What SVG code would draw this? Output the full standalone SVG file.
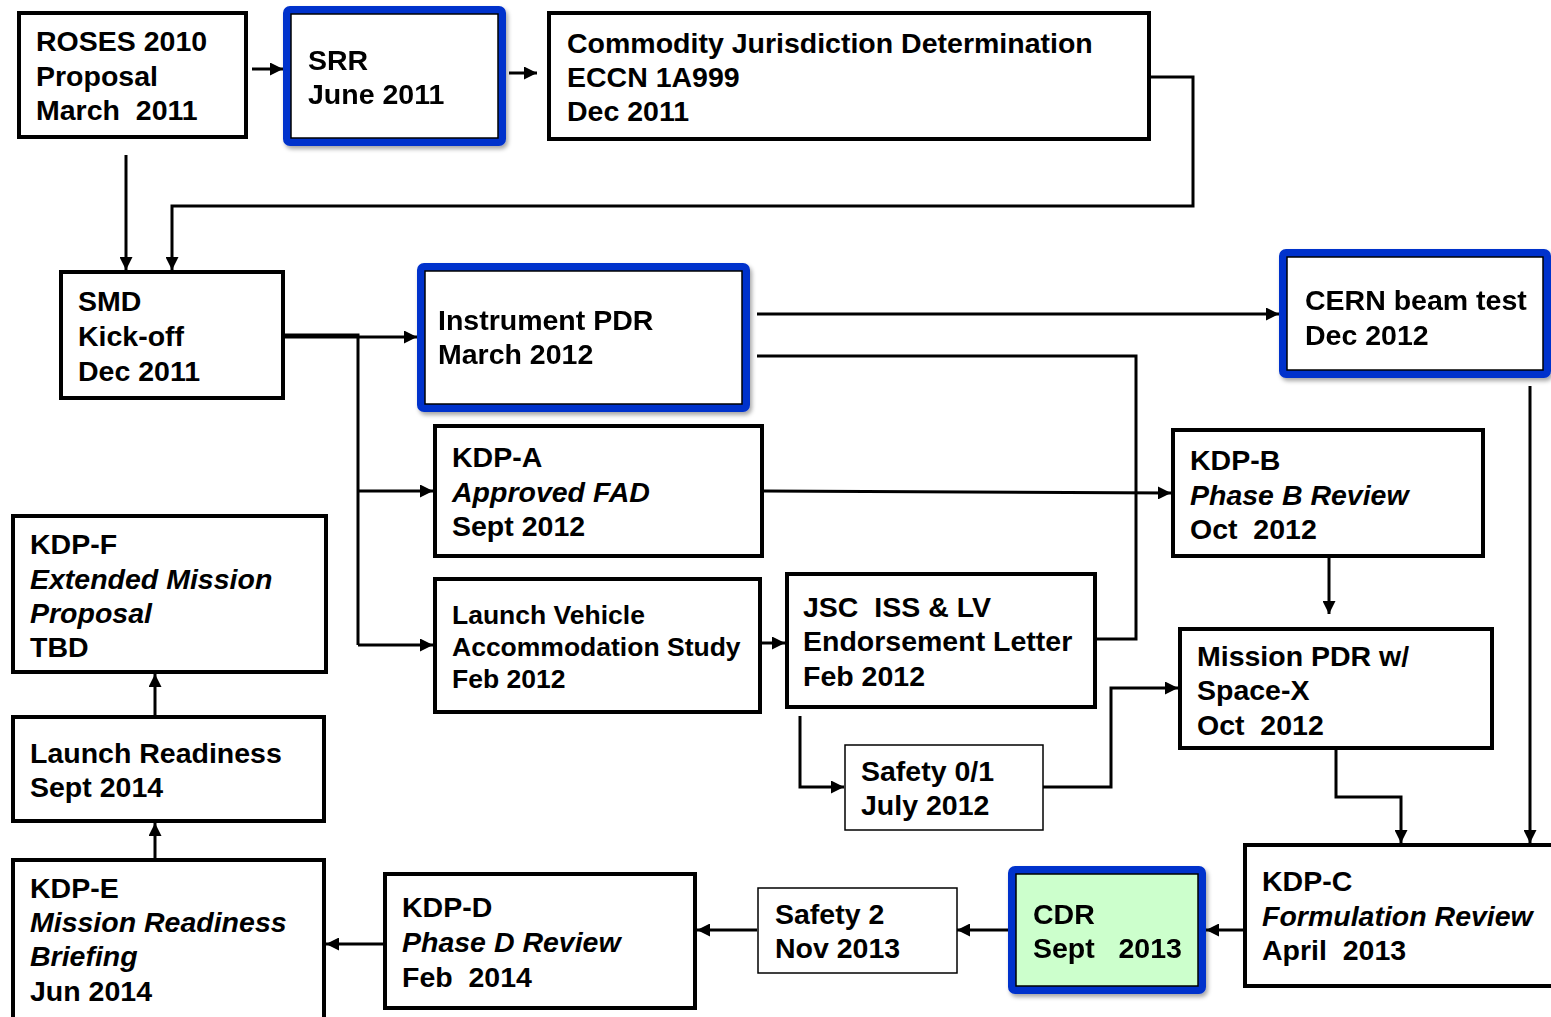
<svg xmlns="http://www.w3.org/2000/svg" width="1551" height="1017" viewBox="0 0 1551 1017">
  <style>
    .box { fill: #ffffff; stroke: #000000; stroke-width: 4; }
    .thin { fill: #ffffff; stroke: #000000; stroke-width: 1.5; }
    .hl { fill: #ffffff; stroke: #0033cc; stroke-width: 8; }
    .hl-in { fill: #ffffff; stroke: #000000; stroke-width: 1.5; }
    .green { fill: #ccffcc; }
    text { font-family: "Liberation Sans", Arial, sans-serif; font-weight: bold; font-size: 28.5px; fill: #000000; }
    .it { font-style: italic; }
    .sm { font-size: 26.5px; }
    .wire { fill: none; stroke: #000000; stroke-width: 3; }
    .arr { marker-end: url(#head); }
  </style>
  <defs>
    <marker id="head" markerUnits="userSpaceOnUse" markerWidth="13" markerHeight="13" viewBox="0 0 13 13" refX="13" refY="6.5" orient="auto">
      <path d="M0,0 L13,6.5 L0,13 z" fill="#000000"/>
    </marker>
    <filter id="shadow" x="-10%" y="-10%" width="125%" height="130%">
      <feDropShadow dx="2" dy="3" stdDeviation="2" flood-color="#000000" flood-opacity="0.35"/>
    </filter>
  </defs>

  <rect width="1551" height="1017" fill="#ffffff"/>

  <!-- connectors -->
  <g id="connectors">
    <line class="wire arr" x1="252" y1="69" x2="283" y2="69"/>
    <line class="wire arr" x1="509" y1="73" x2="537" y2="73"/>
    <line class="wire arr" x1="126" y1="155" x2="126" y2="270"/>
    <polyline class="wire arr" points="1151,77 1193,77 1193,206 172,206 172,270"/>
    <line class="wire arr" x1="285" y1="337" x2="417" y2="337"/>
    <polyline class="wire" points="285,335 358,335 358,645"/>
    <line class="wire arr" x1="358" y1="491" x2="433" y2="491"/>
    <line class="wire arr" x1="358" y1="645" x2="433" y2="645"/>
    <line class="wire arr" x1="757" y1="314" x2="1279" y2="314"/>
    <polyline class="wire" points="757,356 1136,356 1136,639 1097,639"/>
    <line class="wire arr" x1="764" y1="491" x2="1171" y2="493"/>
    <line class="wire arr" x1="1329" y1="558" x2="1329" y2="614"/>
    <line class="wire arr" x1="762" y1="643" x2="785" y2="643"/>
    <polyline class="wire arr" points="800,716 800,787 844,787"/>
    <polyline class="wire arr" points="1043,787 1111,787 1111,688 1178,688"/>
    <polyline class="wire arr" points="1336,750 1336,797 1401,797 1401,843"/>
    <line class="wire arr" x1="1530" y1="386" x2="1530" y2="843"/>
    <line class="wire arr" x1="1243" y1="930" x2="1206" y2="930"/>
    <line class="wire arr" x1="1008" y1="930" x2="957" y2="930"/>
    <line class="wire arr" x1="757" y1="930" x2="697" y2="930"/>
    <line class="wire arr" x1="383" y1="944" x2="326" y2="944"/>
    <line class="wire arr" x1="155" y1="858" x2="155" y2="823"/>
    <line class="wire arr" x1="155" y1="715" x2="155" y2="674"/>
  </g>

  <!-- nodes -->
  <g id="roses">
    <rect class="box" x="19" y="13" width="227" height="124"/>
    <text x="36" y="51">ROSES 2010</text>
    <text x="36" y="86">Proposal</text>
    <text x="36" y="120" xml:space="preserve">March  2011</text>
  </g>

  <g id="srr" filter="url(#shadow)">
    <rect class="hl" x="287" y="10" width="215" height="132" rx="3"/>
    <rect class="hl-in" x="291" y="14" width="207" height="124"/>
    <text x="308" y="70">SRR</text>
    <text x="308" y="104">June 2011</text>
  </g>

  <g id="commodity">
    <rect class="box" x="549" y="13" width="600" height="126"/>
    <text x="567" y="53">Commodity Jurisdiction Determination</text>
    <text x="567" y="87">ECCN 1A999</text>
    <text x="567" y="121">Dec 2011</text>
  </g>

  <g id="smd">
    <rect class="box" x="61" y="272" width="222" height="126"/>
    <text x="78" y="311">SMD</text>
    <text x="78" y="346">Kick-off</text>
    <text x="78" y="381">Dec 2011</text>
  </g>

  <g id="instrument-pdr" filter="url(#shadow)">
    <rect class="hl" x="421" y="267" width="325" height="141" rx="3"/>
    <rect class="hl-in" x="425" y="271" width="317" height="133"/>
    <text x="438" y="330">Instrument PDR</text>
    <text x="438" y="364">March 2012</text>
  </g>

  <g id="cern" filter="url(#shadow)">
    <rect class="hl" x="1283" y="253" width="264" height="121" rx="3"/>
    <rect class="hl-in" x="1287" y="257" width="256" height="113"/>
    <text x="1305" y="310">CERN beam test</text>
    <text x="1305" y="345">Dec 2012</text>
  </g>

  <g id="kdp-a">
    <rect class="box" x="435" y="426" width="327" height="130"/>
    <text x="452" y="467">KDP-A</text>
    <text class="it" x="452" y="502">Approved FAD</text>
    <text x="452" y="536">Sept 2012</text>
  </g>

  <g id="kdp-b">
    <rect class="box" x="1173" y="430" width="310" height="126"/>
    <text x="1190" y="470">KDP-B</text>
    <text class="it" x="1190" y="505">Phase B Review</text>
    <text x="1190" y="539" xml:space="preserve">Oct  2012</text>
  </g>

  <g id="kdp-f">
    <rect class="box" x="13" y="516" width="313" height="156"/>
    <text x="30" y="554">KDP-F</text>
    <text class="it" x="30" y="589">Extended Mission</text>
    <text class="it" x="30" y="623">Proposal</text>
    <text x="30" y="657">TBD</text>
  </g>

  <g id="launch-vehicle">
    <rect class="box" x="435" y="579" width="325" height="133"/>
    <text class="sm" x="452" y="624">Launch Vehicle</text>
    <text class="sm" x="452" y="656">Accommodation Study</text>
    <text class="sm" x="452" y="688">Feb 2012</text>
  </g>

  <g id="jsc">
    <rect class="box" x="787" y="574" width="308" height="133"/>
    <text x="803" y="617" xml:space="preserve">JSC  ISS &amp; LV</text>
    <text x="803" y="651">Endorsement Letter</text>
    <text x="803" y="686">Feb 2012</text>
  </g>

  <g id="mission-pdr">
    <rect class="box" x="1180" y="629" width="312" height="119"/>
    <text x="1197" y="666">Mission PDR w/</text>
    <text x="1197" y="700">Space-X</text>
    <text x="1197" y="735" xml:space="preserve">Oct  2012</text>
  </g>

  <g id="launch-readiness">
    <rect class="box" x="13" y="717" width="311" height="104"/>
    <text x="30" y="763">Launch Readiness</text>
    <text x="30" y="797">Sept 2014</text>
  </g>

  <g id="safety-01">
    <rect class="thin" x="845" y="745" width="198" height="85"/>
    <text x="861" y="781">Safety 0/1</text>
    <text x="861" y="815">July 2012</text>
  </g>

  <g id="kdp-e">
    <rect class="box" x="13" y="860" width="311" height="162"/>
    <text x="30" y="898">KDP-E</text>
    <text class="it" x="30" y="932">Mission Readiness</text>
    <text class="it" x="30" y="966">Briefing</text>
    <text x="30" y="1001">Jun 2014</text>
  </g>

  <g id="kdp-d">
    <rect class="box" x="385" y="874" width="310" height="134"/>
    <text x="402" y="917">KDP-D</text>
    <text class="it" x="402" y="952">Phase D Review</text>
    <text x="402" y="987" xml:space="preserve">Feb  2014</text>
  </g>

  <g id="safety-2">
    <rect class="thin" x="758" y="888" width="199" height="85"/>
    <text x="775" y="924">Safety 2</text>
    <text x="775" y="958">Nov 2013</text>
  </g>

  <g id="cdr" filter="url(#shadow)">
    <rect class="hl" x="1012" y="870" width="190" height="120" rx="3"/>
    <rect class="hl-in green" x="1016" y="874" width="182" height="112"/>
    <text x="1033" y="924">CDR</text>
    <text x="1033" y="958" xml:space="preserve">Sept   2013</text>
  </g>

  <g id="kdp-c">
    <rect class="box" x="1245" y="845" width="310" height="141"/>
    <text x="1262" y="891">KDP-C</text>
    <text class="it" x="1262" y="926">Formulation Review</text>
    <text x="1262" y="960" xml:space="preserve">April  2013</text>
  </g>
</svg>
